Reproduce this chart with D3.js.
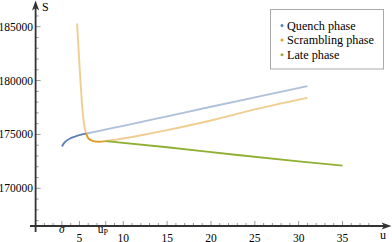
<!DOCTYPE html>
<html><head><meta charset="utf-8">
<script src="https://cdn.jsdelivr.net/npm/d3@7"></script>
<style>body{margin:0;background:#fff}svg{display:block}text{font-family:"Liberation Serif","DejaVu Serif",serif}</style>
</head><body><svg id="c" width="392" height="242"></svg>
<script>
// ---- data ----
const sigma = 3, uP = 8, uCross = 5.76;
const blueU = [3, 3.2, 3.5, 4, 4.5, 5, 5.76, 7.4, 10, 15, 20, 25, 31];
const blueS = [173880, 174150, 174400, 174650, 174800, 174930, 175070, 175360, 175800, 176680, 177570, 178440, 179480];
const orangeU = [4.73, 5.0, 5.2, 5.34, 5.5, 5.76, 6.05, 6.6, 7.2, 8, 10, 12.5, 15, 20, 25, 31];
const orangeS = [185300, 181500, 178900, 177330, 176100, 175070, 174600, 174380, 174320, 174380, 174620, 174990, 175400, 176290, 177320, 178390];
const greenU = [8, 15, 22.5, 30, 35];
const greenS = [174380, 173810, 173140, 172500, 172100];
const xTicks = [5, 10, 15, 20, 25, 30, 35];
const yTicks = [170000, 175000, 180000, 185000];
const legendLabels = ["Quench phase", "Scrambling phase", "Late phase"];
const colors = ["#5E81B5", "#E19C24", "#8FB032"];

const svg = d3.select("#c");
const x = d3.scaleLinear().domain([0, 35]).range([35.6, 342.5]);
const y = d3.scaleLinear().domain([170000, 185000]).range([188.3, 26.7]);
const axisColor = "#333";
const x0 = x(0), y0 = 226;

// minor/major ticks
const gx = svg.append("g");
d3.range(1, 39).forEach(u => {
  const major = xTicks.includes(u) || u === sigma || u === uP;
  gx.append("line").attr("x1", x(u)).attr("x2", x(u)).attr("y1", y0).attr("y2", y0 - (major ? 5 : 3))
    .attr("stroke", "#999").attr("stroke-width", 1);
});
d3.range(167000, 186001, 1000).forEach(s => {
  const major = yTicks.includes(s);
  gx.append("line").attr("x1", x0).attr("x2", x0 + (major ? 5 : 3)).attr("y1", y(s)).attr("y2", y(s))
    .attr("stroke", "#999").attr("stroke-width", 1);
});

// axes
svg.append("line").attr("x1", 30).attr("x2", 386).attr("y1", y0).attr("y2", y0).attr("stroke", axisColor).attr("stroke-width", 1.8);
svg.append("line").attr("x1", x0).attr("x2", x0).attr("y1", 232).attr("y2", 6).attr("stroke", axisColor).attr("stroke-width", 1.8);
svg.append("path").attr("d", `M391.5,${y0} L381.5,${y0-3.6} L384,${y0} L381.5,${y0+3.6} Z`).attr("fill", axisColor);
svg.append("path").attr("d", `M${x0},0.5 L${x0-3.6},10.5 L${x0},8 L${x0+3.6},10.5 Z`).attr("fill", axisColor);
svg.append("text").attr("x", 42).attr("y", 11).attr("font-size", 12).text("S");
svg.append("text").attr("x", 380).attr("y", 239).attr("font-size", 12).text("u");

// tick labels
xTicks.forEach(u => svg.append("text").attr("x", x(u)).attr("y", 241.5).attr("text-anchor", "middle").attr("font-size", 11.5).text(u));
yTicks.forEach(s => svg.append("text").attr("x", 33).attr("y", y(s) + 4).attr("text-anchor", "end").attr("font-size", 11.5).text(s));
svg.append("text").attr("x", x(sigma)).attr("y", 233).attr("text-anchor", "middle").attr("font-size", 11.5).attr("font-style", "italic").text("σ");
const up = svg.append("text").attr("x", x(uP) - 3).attr("y", 232.5).attr("text-anchor", "middle").attr("font-size", 11.5);
up.append("tspan").text("u");
up.append("tspan").attr("font-size", 8).attr("dy", 2).text("P");

// curves
const line = d3.line().x(d => x(d[0])).y(d => y(d[1])).curve(d3.curveMonotoneX);
function pts(U, S, lo, hi) { return U.map((u, i) => [u, S[i]]).filter(d => d[0] >= lo && d[0] <= hi); }
function draw(p, c, op) {
  svg.append("path").attr("d", line(p)).attr("fill", "none").attr("stroke", c).attr("stroke-width", 1.9)
    .attr("stroke-opacity", op).attr("stroke-linejoin", "round");
}
// faded parts
draw(pts(blueU, blueS, uCross, 99), colors[0], 0.5);
draw(pts(orangeU, orangeS, 0, uCross), colors[1], 0.5);
draw(pts(orangeU, orangeS, uP, 99), colors[1], 0.5);
// solid parts
draw(pts(greenU, greenS, uP, 99), colors[2], 1);
draw(pts(blueU, blueS, sigma, uCross), colors[0], 1);
draw(pts(orangeU, orangeS, uCross, uP), colors[1], 1);

// legend
svg.append("rect").attr("x", 270.5).attr("y", 9.5).attr("width", 113).attr("height", 59.5)
  .attr("fill", "#fff").attr("stroke", "#aaa").attr("stroke-width", 1);
legendLabels.forEach((t, i) => {
  const cy = 25.5 + i * 14.6;
  svg.append("circle").attr("cx", 282).attr("cy", cy).attr("r", 1.5).attr("fill", colors[i]);
  svg.append("text").attr("x", 287).attr("y", cy + 4).attr("font-size", 12.2).text(t);
});
</script></body></html>
